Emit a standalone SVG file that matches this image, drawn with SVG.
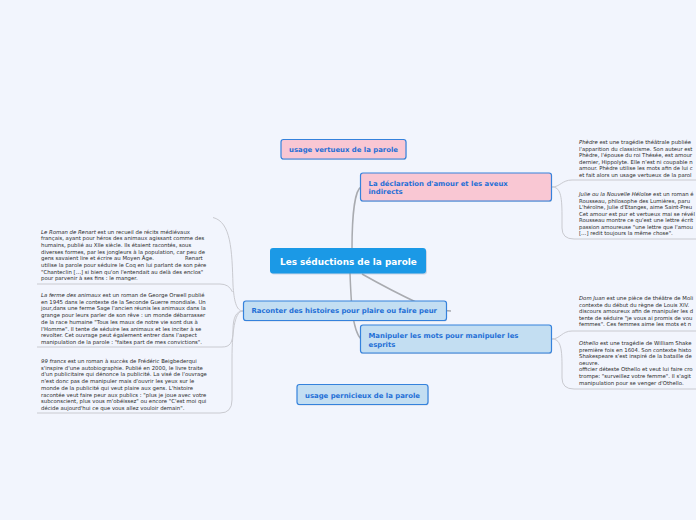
<svg xmlns="http://www.w3.org/2000/svg" width="696" height="520" viewBox="0 0 696 520">
<style>
.bg{fill:#f2f5fd}
.c{fill:none;stroke:#c9cad0;stroke-width:1}
.cm{fill:none;stroke:#a9abb0;stroke-width:1.5}
.t{font-family:"DejaVu Sans",Verdana,sans-serif;font-size:5.35px;fill:#2a2a2a}
.i{font-style:italic}
.n{font-family:"DejaVu Sans",Verdana,sans-serif;font-weight:bold;font-size:6.9px;fill:#1f6fd6}
.pk{fill:#f9c7d3;stroke:#3582dc;stroke-width:1.2}
.lb{fill:#c3def2;stroke:#3582dc;stroke-width:1.2}
.sh{fill:#8a9bb5;opacity:0.35}
</style>
<rect class="bg" x="0" y="0" width="696" height="520"/>
<g id="connectors">
<path class="cm" d="M352,249 C352,215 355,190 361,187"/>
<path class="cm" d="M350,273 C351,300 352,330 361,339"/>
<path class="cm" d="M362,274 Q392,291 420,304 Q440,311 451,311"/>
<path class="c" d="M243,311 C236,311 234,300 233,285 C232,250 231,222 213,217.5"/>
<path class="c" d="M37,284 H220 Q229,284 232.5,292"/>
<path class="c" d="M243,311 C236,311 233,318 233,330 C233,343 230,347 222,347 H37"/>
<path class="c" d="M243,311 C236,311 232,325 232,360 V400 Q232,413 220,413 H37"/>
<path class="c" d="M552,187 C560,187 562,180 572,180 H696"/>
<path class="c" d="M552,187 C560,187 562,195 562,215 V228 Q562,239 574,239 H696"/>
<path class="c" d="M552,339 C560,339 562,331 572,331 H696"/>
<path class="c" d="M552,339 C560,339 562,347 562,365 V378 Q562,389 574,389 H696"/>
</g>
<g id="central">
<rect x="271" y="249.5" width="156" height="25" rx="3" class="sh"/>
<rect x="270" y="248" width="156" height="25.5" rx="3" fill="#1b99e6"/>
<text x="280" y="264.5" font-family="DejaVu Sans,Verdana,sans-serif" font-weight="bold" font-size="8.9" fill="#ffffff">Les séductions de la parole</text>
</g>
<g id="usage-vertueux">
<rect x="281.5" y="140.5" width="125" height="19.5" rx="2.5" class="sh"/>
<rect x="281" y="139.5" width="125" height="19.5" rx="2.5" class="pk"/>
<text class="n" x="289" y="152">usage vertueux de la parole</text>
</g>
<g id="declaration">
<rect x="361" y="174" width="191" height="28" rx="2.5" class="sh"/>
<rect x="360.5" y="173" width="191" height="28" rx="2.5" class="pk"/>
<text class="n" x="368.5" y="185.5">La déclaration d'amour et les aveux</text>
<text class="n" x="368.5" y="194">indirects</text>
</g>
<g id="raconter">
<rect x="244" y="302" width="203" height="19.5" rx="2.5" class="sh"/>
<rect x="243.5" y="301" width="203" height="19.5" rx="2.5" class="lb"/>
<text class="n" x="251.5" y="313.3">Raconter des histoires pour plaire ou faire peur</text>
</g>
<g id="manipuler">
<rect x="361" y="326" width="191" height="28" rx="2.5" class="sh"/>
<rect x="360.5" y="325" width="191" height="28" rx="2.5" class="lb"/>
<text class="n" x="368.5" y="338">Manipuler les mots pour manipuler les</text>
<text class="n" x="368.5" y="346.5">esprits</text>
</g>
<g id="usage-pernicieux">
<rect x="297.5" y="385.5" width="131" height="20" rx="2.5" class="sh"/>
<rect x="297" y="384.5" width="131" height="20" rx="2.5" class="lb"/>
<text class="n" x="305" y="397.5">usage pernicieux de la parole</text>
</g>
<g id="renart">
<text class="t" x="41" y="233.5"><tspan class="i">Le Roman de Renart</tspan> est un recueil de récits médiévaux</text>
<text class="t" x="41" y="240.2">français, ayant pour héros des animaux agissant comme des</text>
<text class="t" x="41" y="246.9">humains, publié au XIIe siècle. Ils étaient racontés, sous</text>
<text class="t" x="41" y="253.6">diverses formes, par les jongleurs à la population, car peu de</text>
<text class="t" x="41" y="260.3">gens savaient lire et écrire au Moyen Âge.</text>
<text class="t" x="185" y="260.3">Renart</text>
<text class="t" x="41" y="267">utilise la parole pour séduire le Coq en lui parlant de son père</text>
<text class="t" x="41" y="273.7">"Chanteclin […] si bien qu'on l'entendait au delà des enclos"</text>
<text class="t" x="41" y="280.4">pour parvenir à ses fins : le manger.</text>
</g>
<g id="ferme">
<text class="t" x="41" y="297"><tspan class="i">La ferme des animaux</tspan> est un roman de George Orwell publié</text>
<text class="t" x="41" y="303.7">en 1945  dans le contexte de la Seconde Guerre mondiale. Un</text>
<text class="t" x="41" y="310.4">jour,dans une ferme Sage l'ancien réunis les animaux dans la</text>
<text class="t" x="41" y="317.1">grange pour leurs parler de son rêve : un monde débarrasser</text>
<text class="t" x="41" y="323.8">de la race humaine "Tous les maux de notre vie sont dus à</text>
<text class="t" x="41" y="330.5">l'Homme". Il tente de séduire les animaux et les inciter à se</text>
<text class="t" x="41" y="337.2">revolter. Cet ouvrage peut également entrer dans l'aspect</text>
<text class="t" x="41" y="343.9">manipulation de la parole : "faites part de mes convictions".</text>
</g>
<g id="francs">
<text class="t" x="41" y="363"><tspan class="i">99 francs</tspan> est un roman à succès de Frédéric Beigbederqui</text>
<text class="t" x="41" y="369.7">s'inspire d'une autobiographie. Publié en 2000, le livre traite</text>
<text class="t" x="41" y="376.4">d'un publicitaire qui dénonce la publicité. La visé de l'ouvrage</text>
<text class="t" x="41" y="383.1">n'est donc pas de manipuler mais d'ouvrir les yeux sur le</text>
<text class="t" x="41" y="389.8">monde de la publicité qui veut plaire aux gens. L'histoire</text>
<text class="t" x="41" y="396.5">racontée veut faire peur aux publics : "plus je joue avec votre</text>
<text class="t" x="41" y="403.2">subconscient, plus vous m'obéissez" ou encore "C'est moi qui</text>
<text class="t" x="41" y="409.9">décide aujourd'hui ce que vous allez vouloir demain".</text>
</g>
<g id="phedre">
<text class="t" x="579" y="144"><tspan class="i">Phèdre</tspan> est une tragédie théâtrale publiée</text>
<text class="t" x="579" y="150.6">l'apparition du classicisme. Son auteur est</text>
<text class="t" x="579" y="157.2">Phèdre, l'épouse du roi Thésée, est amour</text>
<text class="t" x="579" y="163.8">dernier, Hippolyte. Elle n'est ni coupable n</text>
<text class="t" x="579" y="170.4">amour. Phèdre utilise les mots afin de lui c</text>
<text class="t" x="579" y="177">et fait alors un usage vertueux de la parol</text>
</g>
<g id="julie">
<text class="t" x="579" y="196"><tspan class="i">Julie ou la Nouvelle Héloïse</tspan> est un roman é</text>
<text class="t" x="579" y="202.5">Rousseau, philosophe des Lumières, paru</text>
<text class="t" x="579" y="209">L'héroïne, Julie d'Etanges, aime Saint-Preu</text>
<text class="t" x="579" y="215.5">Cet amour est pur et vertueux mai se révél</text>
<text class="t" x="579" y="222">Rousseau montre ce qu'est une lettre écrit</text>
<text class="t" x="579" y="228.5">passion amoureuse "une lettre que l'amou</text>
<text class="t" x="579" y="235">[…] redit toujours la même chose".</text>
</g>
<g id="domjuan">
<text class="t" x="579" y="300"><tspan class="i">Dom Juan</tspan> est une pièce de théâtre de Moli</text>
<text class="t" x="579" y="306.5">contexte du début du règne de Louis XIV.</text>
<text class="t" x="579" y="313">discours amoureux afin de manipuler les d</text>
<text class="t" x="579" y="319.5">tente de séduire "je vous ai promis de vou</text>
<text class="t" x="579" y="326">femmes". Ces femmes aime les mots et n</text>
</g>
<g id="othello">
<text class="t" x="579" y="345"><tspan class="i">Othello</tspan> est une tragédie de William Shake</text>
<text class="t" x="579" y="351.6">première fois en 1604. Son contexte histo</text>
<text class="t" x="579" y="358.2">Shakespeare s'est inspiré de la bataille de</text>
<text class="t" x="579" y="364.8">oeuvre.</text>
<text class="t" x="579" y="371.4">officier déteste Othello et veut lui faire cro</text>
<text class="t" x="579" y="378">trompe: "surveillez votre femme". Il s'agit</text>
<text class="t" x="579" y="384.6">manipulation pour se venger d'Othello.</text>
</g>
</svg>
